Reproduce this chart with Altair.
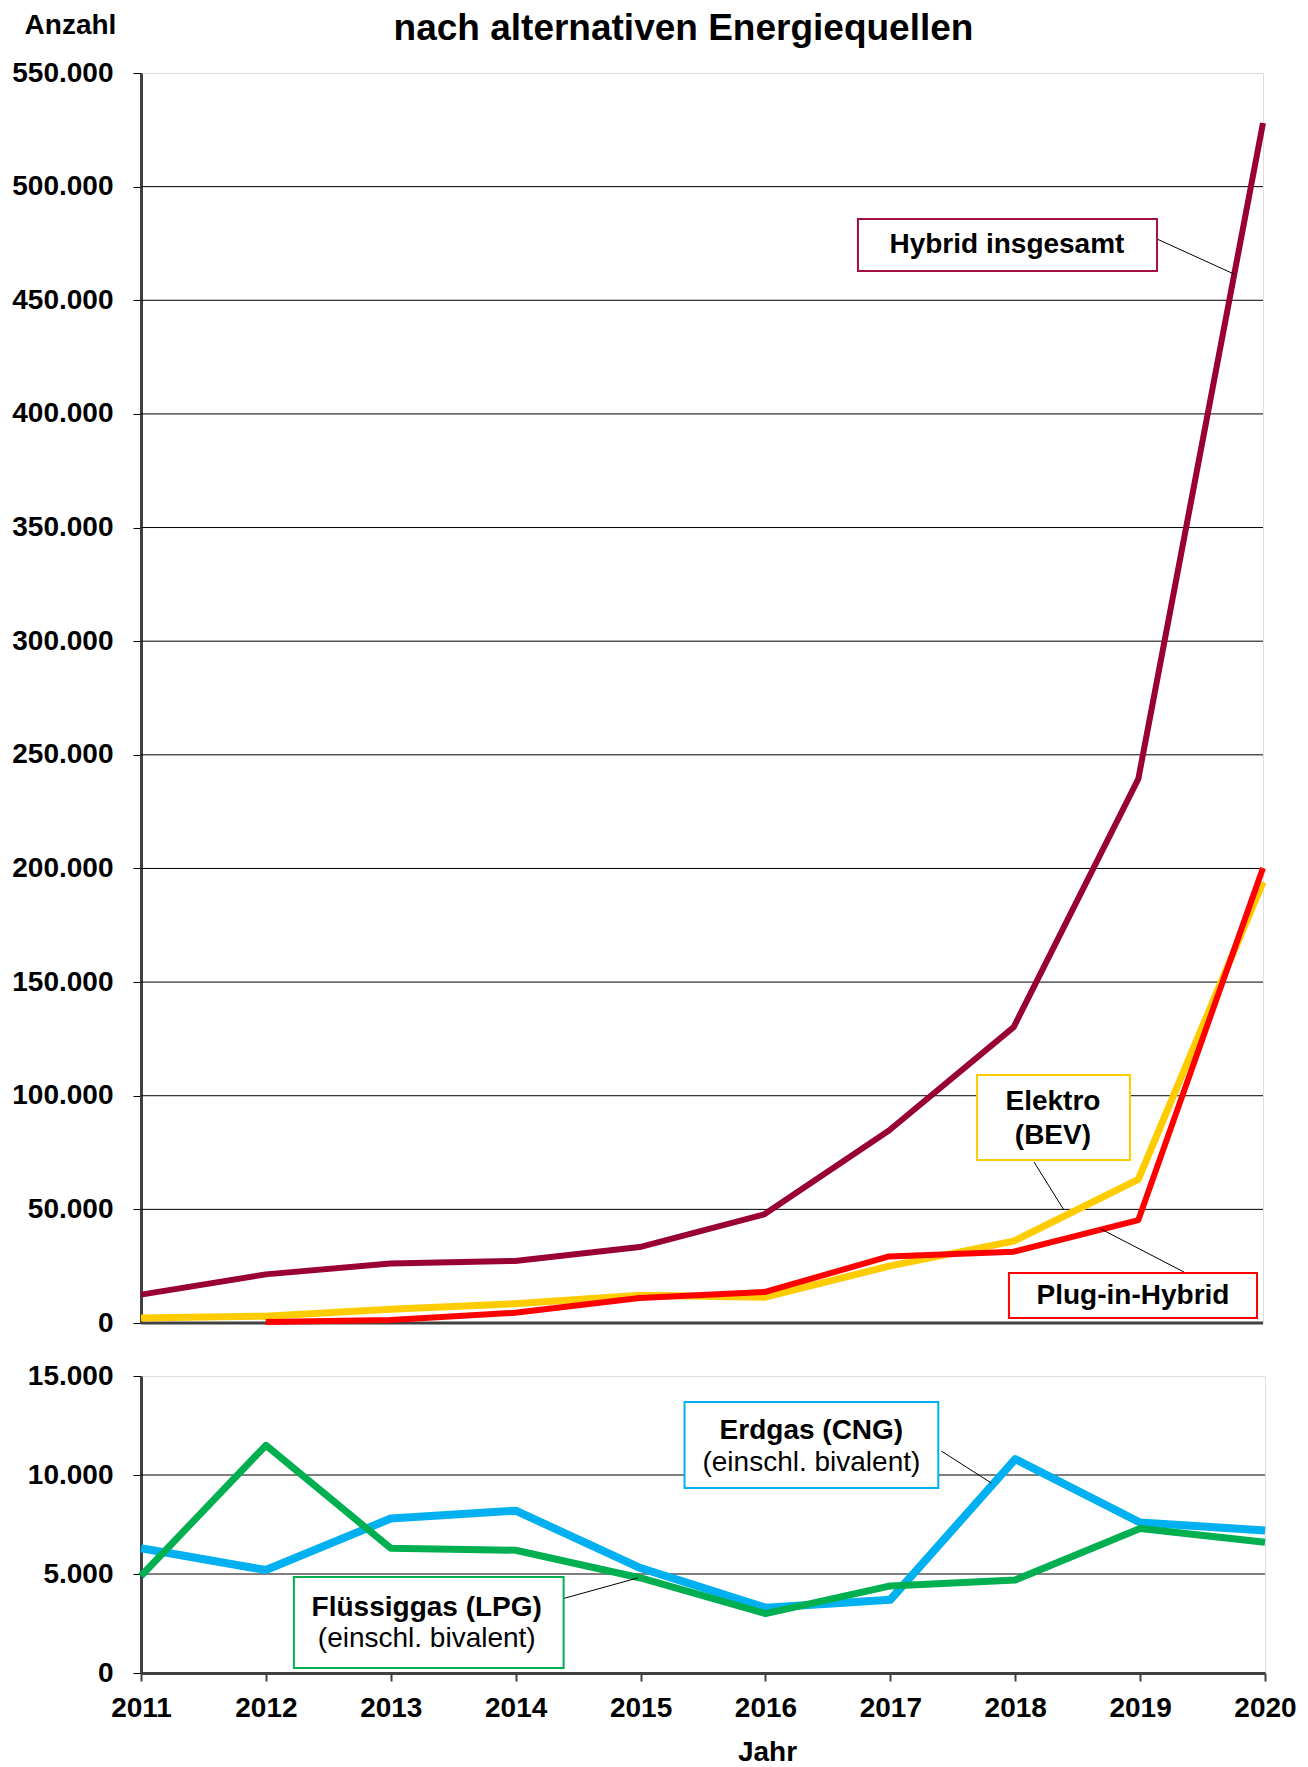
import altair as alt
import pandas as pd

FONT = "Liberation Sans"

# ---------------- data ----------------
years = [2011, 2012, 2013, 2014, 2015, 2016, 2017, 2018, 2019, 2020]
hybrid_insgesamt = [12500, 21400, 26200, 27300, 33400, 47800, 84700, 130200, 239400, 528000]
elektro_bev = [2200, 3000, 6000, 8500, 12200, 11300, 25000, 36000, 63200, 194000]
plugin_years = [2012, 2013, 2014, 2015, 2016, 2017, 2018, 2019, 2020]
plugin_hybrid = [400, 1300, 4500, 11000, 13600, 29300, 31400, 45300, 200200]
erdgas_cng = [6300, 5200, 7800, 8200, 5300, 3300, 3700, 10800, 7600, 7200]
fluessiggas_lpg = [4900, 11500, 6300, 6200, 4800, 3000, 4400, 4700, 7300, 6600]

top_ticks = [0, 50000, 100000, 150000, 200000, 250000, 300000, 350000, 400000, 450000, 500000, 550000]
top_grid = [50000, 100000, 150000, 200000, 250000, 300000, 350000, 400000, 450000, 500000]
top_zero = [0]
bottom_ticks = [0, 5000, 10000, 15000]
bottom_grid = [5000, 10000]

title_text = "nach alternativen Energiequellen"
y_title = "Anzahl"
x_title = "Jahr"

# ---------------- annotation boxes (in data units) ----------------
C_HYB, C_BEV, C_PHEV, C_CNG, C_LPG = "#990033", "#FFCC00", "#FF0000", "#00B0F0", "#00B050"

top_box_x1 = [2016.751, 2017.706, 2017.962]
top_box_x2 = [2019.150, 2018.933, 2019.952]
top_box_y1 = [485760, 109120, 22000]
top_box_y2 = [462880, 71720, 2200]
top_box_col = ["#A3123F", "#FFCC00", "#FF0000"]

top_lead_x1 = [2019.150, 2018.163, 2019.366]
top_lead_y1 = [476960, 70840, 22440]
top_lead_x2 = [2019.767, 2018.403, 2018.700]
top_lead_y2 = [461560, 49720, 41360]

top_text = ["Hybrid insgesamt", "Elektro", "(BEV)", "Plug-in-Hybrid"]
top_text_x = [2017.946, 2018.315, 2018.315, 2018.957]
top_text_y = [474320, 97240, 82280, 11880]

bot_box_x1 = [2015.352, 2012.224]
bot_box_x2 = [2017.384, 2014.384]
bot_box_y1 = [13686, 4848]
bot_box_y2 = [9343, 252]
bot_box_col = [C_CNG, C_LPG]

bot_lead_x1 = [2017.408, 2014.368]
bot_lead_y1 = [11211, 3737]
bot_lead_x2 = [2017.808, 2014.976]
bot_lead_y2 = [9595, 4798]

bot_text_bold = ["Erdgas (CNG)", "Flüssiggas (LPG)"]
bot_text_bold_x = [2016.368, 2013.288]
bot_text_bold_y = [12221, 3283]
bot_text_reg = ["(einschl. bivalent)", "(einschl. bivalent)"]
bot_text_reg_x = [2016.368, 2013.288]
bot_text_reg_y = [10605, 1717]

W_TOP, H_TOP = 1122, 1250
W_BOT, H_BOT = 1124, 297

label_expr = "replace(format(datum.value, ','), ',', '.')"

x_scale = alt.Scale(domain=[2011, 2020], nice=False, zero=False)
y_top_scale = alt.Scale(domain=[0, 550000], nice=False)
y_bot_scale = alt.Scale(domain=[0, 15000], nice=False)

# top panel: x axis on top carries the chart heading only
axis_x_top = alt.Axis(orient="top", labels=False, ticks=False, grid=False, domain=False,
                      title=title_text, titleFont=FONT, titleFontSize=37,
                      titleFontWeight="bold", titleColor="black", titleX=542,
                      titleY=-34, titleAlign="center", titleBaseline="alphabetic",
                      titleAngle=0)
axis_y_top = alt.Axis(values=top_ticks, grid=False, labelExpr=label_expr,
                      labelFont=FONT, labelFontSize=28, labelFontWeight="bold",
                      labelColor="black", labelPadding=20, tickSize=8,
                      tickColor="black", tickWidth=1, domainColor="#404040",
                      domainWidth=3, title=y_title, titleAngle=0, titleX=-71,
                      titleY=-40, titleAlign="center", titleBaseline="alphabetic",
                      titleFont=FONT, titleFontSize=28, titleFontWeight="bold",
                      titleColor="black", minExtent=130, maxExtent=130)
axis_x_bot = alt.Axis(values=years, format="d", labelFont=FONT, labelFontSize=28,
                      labelFontWeight="bold", labelColor="black", labelPadding=13,
                      labelFlush=False, labelOverlap=False, tickSize=8,
                      tickColor="#404040", tickWidth=2, domainColor="#404040",
                      domainWidth=3, grid=False, title=x_title, titleFont=FONT,
                      titleFontSize=28, titleFontWeight="bold", titleColor="black",
                      titleX=626, titlePadding=16)
axis_y_bot = alt.Axis(values=bottom_ticks, grid=False, labelExpr=label_expr,
                      labelFont=FONT, labelFontSize=28, labelFontWeight="bold",
                      labelColor="black", labelPadding=20, tickSize=8,
                      tickColor="black", tickWidth=1, domainColor="#404040",
                      domainWidth=3, title=None, minExtent=130, maxExtent=130)


def line_layer(xs, vals, color, width, y_scale, x_axis, y_axis):
    df = pd.DataFrame({"year": xs, "value": vals})
    return alt.Chart(df).mark_line(color=color, strokeWidth=width, strokeJoin="round").encode(
        x=alt.X("year:Q", scale=x_scale, axis=x_axis),
        y=alt.Y("value:Q", scale=y_scale, axis=y_axis),
    )


def grid_layer(vals, y_scale, y_axis, color="black", width=1):
    return alt.Chart(pd.DataFrame({"value": vals})).mark_rule(
        color=color, strokeWidth=width).encode(
        y=alt.Y("value:Q", scale=y_scale, axis=y_axis))


def box_layer(x1, x2, y1, y2, cols, y_scale, x_axis, y_axis):
    df = pd.DataFrame({"x1": x1, "x2": x2, "y1": y1, "y2": y2, "c": cols})
    return alt.Chart(df).mark_rect(fill="white", strokeWidth=2).encode(
        x=alt.X("x1:Q", scale=x_scale, axis=x_axis), x2="x2:Q",
        y=alt.Y("y1:Q", scale=y_scale, axis=y_axis), y2="y2:Q",
        stroke=alt.Color("c:N", scale=None))


def lead_layer(x1, y1, x2, y2, y_scale, x_axis, y_axis):
    df = pd.DataFrame({"x1": x1, "x2": x2, "y1": y1, "y2": y2})
    return alt.Chart(df).mark_rule(color="black", strokeWidth=1).encode(
        x=alt.X("x1:Q", scale=x_scale, axis=x_axis), x2="x2:Q",
        y=alt.Y("y1:Q", scale=y_scale, axis=y_axis), y2="y2:Q")


def text_layer(texts, xs, ys, weight, y_scale, x_axis, y_axis):
    df = pd.DataFrame({"t": texts, "x": xs, "y": ys})
    return alt.Chart(df).mark_text(font=FONT, fontSize=28, fontWeight=weight,
                                   color="black", align="center",
                                   baseline="middle").encode(
        x=alt.X("x:Q", scale=x_scale, axis=x_axis),
        y=alt.Y("y:Q", scale=y_scale, axis=y_axis),
        text="t:N")


xa, ya = axis_x_top, axis_y_top
top = alt.layer(
    grid_layer(top_grid, y_top_scale, ya),
    grid_layer(top_zero, y_top_scale, ya, color="#404040", width=3),
    line_layer(years, hybrid_insgesamt, C_HYB, 6, y_top_scale, xa, ya),
    line_layer(years, elektro_bev, C_BEV, 7, y_top_scale, xa, ya),
    line_layer(plugin_years, plugin_hybrid, C_PHEV, 6, y_top_scale, xa, ya),
    lead_layer(top_lead_x1, top_lead_y1, top_lead_x2, top_lead_y2, y_top_scale, xa, ya),
    box_layer(top_box_x1, top_box_x2, top_box_y1, top_box_y2, top_box_col, y_top_scale, xa, ya),
    text_layer(top_text, top_text_x, top_text_y, "bold", y_top_scale, xa, ya),
).properties(width=W_TOP, height=H_TOP)

xb, yb = axis_x_bot, axis_y_bot
bottom = alt.layer(
    grid_layer(bottom_grid, y_bot_scale, yb),
    line_layer(years, erdgas_cng, C_CNG, 8, y_bot_scale, xb, yb),
    line_layer(years, fluessiggas_lpg, C_LPG, 7, y_bot_scale, xb, yb),
    lead_layer(bot_lead_x1, bot_lead_y1, bot_lead_x2, bot_lead_y2, y_bot_scale, xb, yb),
    box_layer(bot_box_x1, bot_box_x2, bot_box_y1, bot_box_y2, bot_box_col, y_bot_scale, xb, yb),
    text_layer(bot_text_bold, bot_text_bold_x, bot_text_bold_y, "bold", y_bot_scale, xb, yb),
    text_layer(bot_text_reg, bot_text_reg_x, bot_text_reg_y, "normal", y_bot_scale, xb, yb),
).properties(width=W_BOT, height=H_BOT)

chart = alt.vconcat(top, bottom, spacing=53, bounds="flush").properties(
    padding={"left": 2, "top": 0, "right": 0, "bottom": 0}
).configure_view(stroke="#8c8c8c", strokeWidth=3).configure(background="white")

chart.save("out.html", embed_options={"renderer": "svg", "actions": False})
